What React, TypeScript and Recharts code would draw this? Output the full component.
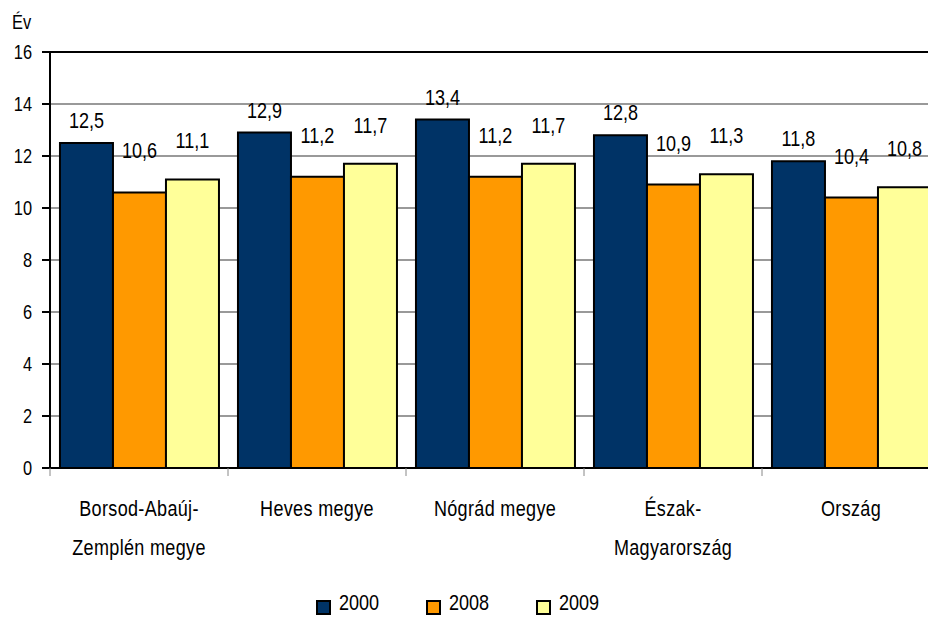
import { BarChart, Bar, XAxis, YAxis, CartesianGrid, ReferenceLine, LabelList } from 'recharts';

const categories = ['Borsod-Abaúj-Zemplén megye', 'Heves megye', 'Nógrád megye', 'Észak-Magyarország', 'Ország'];
const values2000 = [12.5, 12.9, 13.4, 12.8, 11.8];
const values2008 = [10.6, 11.2, 11.2, 10.9, 10.4];
const values2009 = [11.1, 11.7, 11.7, 11.3, 10.8];
const yTicks = [0, 2, 4, 6, 8, 10, 12, 14, 16];
const seriesNames = ['2000', '2008', '2009'];

// no narrow font installed, so Liberation Sans is squeezed horizontally
const FONT = '"Liberation Sans", Arial, sans-serif';
const NARROW = 0.82;
const colors = ['#003366', '#FF9900', '#FFFF99'];
const labelLift = [15, 34, 31];

const data = categories.map((name, i) => ({
  name,
  y2000: values2000[i],
  y2008: values2008[i],
  y2009: values2009[i],
}));

const fmt = (v: any) => Number(v).toFixed(1).replace('.', ',');

const NarrowText = ({ x, y, anchor = 'middle', size, spacing = 0, children }: any) => (
  <text
    transform={`translate(${x},${y}) scale(${NARROW},1)`}
    textAnchor={anchor}
    fontSize={size}
    letterSpacing={spacing}
    fontFamily={FONT}
    fill="#000"
  >
    {children}
  </text>
);

// category label, broken after the last hyphen; tick mark sits on the category boundary
const CategoryTick = ({ x, y, payload }: any) => {
  const name: string = payload.value;
  const cut = name.lastIndexOf('-');
  const lines = cut > 0 ? [name.slice(0, cut + 1), name.slice(cut + 1)] : [name];
  const half = 89;
  return (
    <g>
      <line x1={x - half} y1={y} x2={x - half} y2={y + 8} stroke="#888" strokeWidth={1} />
      {lines.map((l, i) => (
        <NarrowText key={i} x={x} y={y + 48 + i * 39} size={22} spacing={0.4}>
          {l}
        </NarrowText>
      ))}
    </g>
  );
};

const ValueTick = ({ x, y, payload }: any) => (
  <NarrowText x={x} y={y + 7} anchor="end" size={20}>
    {payload.value}
  </NarrowText>
);

const makeLabel = (lift: number) => (props: any) => {
  const { x, y, width, value } = props;
  return (
    <NarrowText x={Number(x) + Number(width) / 2} y={Number(y) - lift} size={22}>
      {fmt(value)}
    </NarrowText>
  );
};

export default function App() {
  const keys = ['y2000', 'y2008', 'y2009'];
  return (
    <div style={{ position: 'fixed', left: 0, top: 0, width: 928, height: 617, overflow: 'hidden', background: '#fff', fontFamily: FONT }}>
      <div style={{ position: 'absolute', left: 12, top: 11, fontSize: 20, lineHeight: '22px', color: '#000', transform: `scaleX(${NARROW})`, transformOrigin: 'left' }}>Év</div>
      <div style={{ position: 'absolute', left: 8, top: 8 }}>
        <BarChart
          width={932}
          height={609}
          data={data}
          margin={{ top: 44, right: 0, bottom: 69, left: 0 }}
          barCategoryGap="5.6%"
          barGap={0}
        >
          <CartesianGrid horizontal vertical={false} stroke="#999" strokeWidth={2} />
          <XAxis
            dataKey="name"
            axisLine={{ stroke: '#000', strokeWidth: 2 }}
            tickLine={false}
            tickSize={0}
            tickMargin={0}
            height={80}
            tick={<CategoryTick />}
            interval={0}
          />
          <YAxis
            domain={[0, 16]}
            ticks={yTicks}
            width={42}
            axisLine={{ stroke: '#000', strokeWidth: 2 }}
            tickLine={{ stroke: '#000', strokeWidth: 2 }}
            tickSize={8}
            tickMargin={10}
            tick={<ValueTick />}
          />
          <ReferenceLine y={16} stroke="#000" strokeWidth={2} />
          {keys.map((k, i) => (
            <Bar key={k} dataKey={k} name={seriesNames[i]} fill={colors[i]} stroke="#000" strokeWidth={2} isAnimationActive={false}>
              <LabelList dataKey={k} content={makeLabel(labelLift[i])} />
            </Bar>
          ))}
        </BarChart>
      </div>
      <div style={{ position: 'absolute', left: 316, top: 590, display: 'flex' }}>
        {seriesNames.map((s, i) => (
          <div key={s} style={{ width: 110, display: 'flex', alignItems: 'center', fontSize: 22, color: '#000' }}>
            <span style={{ width: 11, height: 11, border: '2px solid #000', background: colors[i], marginTop: 8, marginRight: 8 }} />
            <span style={{ display: 'inline-block', transform: `scaleX(${NARROW})`, transformOrigin: 'left' }}>{s}</span>
          </div>
        ))}
      </div>
    </div>
  );
}
